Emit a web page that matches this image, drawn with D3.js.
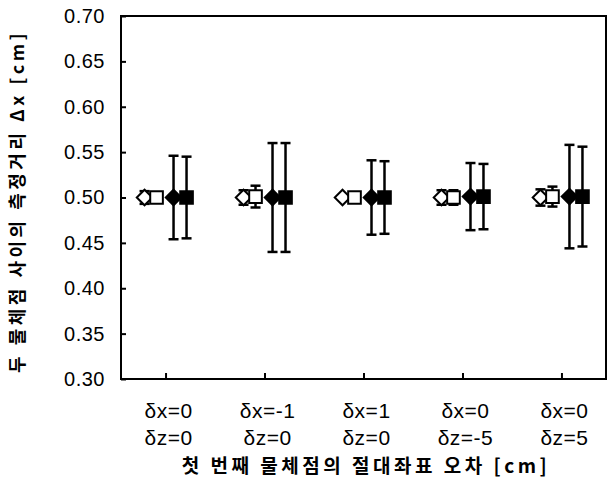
<html>
<head>
    <meta charset="utf-8" />
    <title>Distance error chart</title>
    <script src="https://d3js.org/d3.v7.min.js"></script>
</head>
<style>
    body {
        margin: 0;
        padding: 0;
        background: white;
    }
</style>

<body>
    <div id="chart"></div>
</body>

<script type="text/javascript">

    // category labels (two lines per group)
    const labelsX = ["δx=0", "δx=-1", "δx=1", "δx=0", "δx=0"];
    const labelsZ = ["δz=0", "δz=0", "δz=0", "δz=-5", "δz=5"];

    const yTicks = [0.30, 0.35, 0.40, 0.45, 0.50, 0.55, 0.60, 0.65, 0.70];

    // four series, mean and half error bar
    const openDiamondMean = [0.500, 0.500, 0.500, 0.500, 0.500];
    const openDiamondErr = [0.007, 0.008, 0.002, 0.008, 0.009];
    const openSquareMean = [0.500, 0.501, 0.500, 0.500, 0.501];
    const openSquareErr = [0.004, 0.012, 0.002, 0.008, 0.011];
    const filledDiamondMean = [0.500, 0.500, 0.500, 0.501, 0.501];
    const filledDiamondErr = [0.046, 0.060, 0.041, 0.037, 0.057];
    const filledSquareMean = [0.500, 0.500, 0.500, 0.501, 0.501];
    const filledSquareErr = [0.045, 0.060, 0.040, 0.036, 0.055];

    const width = 609, height = 477;
    const mLeft = 121, mRight = 606, mTop = 16, mBottom = 379;

    const svg = d3.select("#chart")
        .append("svg")
        .attr("width", width)
        .attr("height", height);

    const x = d3.scalePoint()
        .domain(d3.range(labelsX.length))
        .range([mLeft, mRight])
        .padding(0.45);

    const y = d3.scaleLinear()
        .domain([0.30, 0.70])
        .range([mBottom, mTop]);

    const series = [
        { mean: openDiamondMean, err: openDiamondErr, shape: "diamond", fill: "white", dx: -21 },
        { mean: openSquareMean, err: openSquareErr, shape: "square", fill: "white", dx: -9 },
        { mean: filledDiamondMean, err: filledDiamondErr, shape: "diamond", fill: "black", dx: 8 },
        { mean: filledSquareMean, err: filledSquareErr, shape: "square", fill: "black", dx: 21 }
    ];

    // y axis, ticks pointing inside
    const yAxis = svg.append("g")
        .attr("transform", "translate(" + mLeft + ",0)")
        .call(d3.axisLeft(y).tickValues(yTicks).tickFormat(d3.format(".2f")).tickSize(-5).tickPadding(16));
    yAxis.select(".domain").remove();
    yAxis.selectAll("line").attr("stroke-width", 2);
    yAxis.selectAll("text")
        .style("font-family", "Liberation Sans, Arial, sans-serif")
        .style("font-size", "20px")
        .style("letter-spacing", "0.5px")
        .attr("fill", "black");

    // x axis ticks at group centres
    const xAxis = svg.append("g")
        .attr("transform", "translate(0," + mBottom + ")")
        .call(d3.axisBottom(x).tickSize(-6).tickFormat(""));
    xAxis.select(".domain").remove();
    xAxis.selectAll("line").attr("stroke-width", 2);

    // frame
    svg.append("rect")
        .attr("x", mLeft)
        .attr("y", mTop)
        .attr("width", mRight - mLeft)
        .attr("height", mBottom - mTop)
        .attr("fill", "none")
        .attr("stroke", "black")
        .attr("stroke-width", 2);

    // two-line category labels
    const catFont = "Liberation Sans, Arial, sans-serif";
    svg.selectAll("text.lx")
        .data(labelsX)
        .enter()
        .append("text")
        .attr("class", "lx")
        .attr("x", (d, i) => x(i) + 3)
        .attr("y", 418)
        .attr("text-anchor", "middle")
        .style("font-family", catFont)
        .style("font-size", "21px")
        .style("letter-spacing", "0.5px")
        .text(d => d);
    svg.selectAll("text.lz")
        .data(labelsZ)
        .enter()
        .append("text")
        .attr("class", "lz")
        .attr("x", (d, i) => x(i) + 3)
        .attr("y", 445)
        .attr("text-anchor", "middle")
        .style("font-family", catFont)
        .style("font-size", "21px")
        .style("letter-spacing", "0.5px")
        .text(d => d);

    // axis titles
    svg.append("text")
        .attr("x", 366)
        .attr("y", 473)
        .attr("text-anchor", "middle")
        .style("font-family", "Noto Sans CJK KR, sans-serif")
        .style("font-size", "19px")
        .style("font-weight", "bold")
        .style("letter-spacing", "3.5px")
        .text("첫 번째 물체점의 절대좌표 오차 [cm]");

    svg.append("text")
        .attr("transform", "translate(24," + ((mTop + mBottom) / 2 + 4) + ") rotate(-90)")
        .attr("text-anchor", "middle")
        .style("font-family", "Noto Sans CJK KR, sans-serif")
        .style("font-size", "18px")
        .style("font-weight", "bold")
        .style("letter-spacing", "3.5px")
        .text("두 물체점 사이의 측정거리 Δx [cm]");

    const diamond = d3.symbol().type(d3.symbolSquare).size(120);
    const square = d3.symbol().type(d3.symbolSquare).size(160);

    series.forEach(s => {
        const g = svg.append("g");
        const pts = s.mean.map((m, i) => ({ i: i, m: m, e: s.err[i] }));

        // error bars
        g.selectAll("line.bar")
            .data(pts)
            .enter()
            .append("line")
            .attr("x1", d => x(d.i) + s.dx)
            .attr("x2", d => x(d.i) + s.dx)
            .attr("y1", d => y(d.m + d.e))
            .attr("y2", d => y(d.m - d.e))
            .attr("stroke", "black")
            .attr("stroke-width", 2.5);
        [1, -1].forEach(sign => {
            g.selectAll("line.cap" + sign)
                .data(pts)
                .enter()
                .append("line")
                .attr("x1", d => x(d.i) + s.dx - 5)
                .attr("x2", d => x(d.i) + s.dx + 5)
                .attr("y1", d => y(d.m + sign * d.e))
                .attr("y2", d => y(d.m + sign * d.e))
                .attr("stroke", "black")
                .attr("stroke-width", 2.5);
        });

        // markers
        g.selectAll("path")
            .data(pts)
            .enter()
            .append("path")
            .attr("d", s.shape === "diamond" ? diamond : square)
            .attr("transform", d => "translate(" + (x(d.i) + s.dx) + "," + y(d.m) + ")" +
                (s.shape === "diamond" ? " rotate(45)" : ""))
            .attr("fill", s.fill)
            .attr("stroke", "black")
            .attr("stroke-width", 2);
    });

</script>

</html>
